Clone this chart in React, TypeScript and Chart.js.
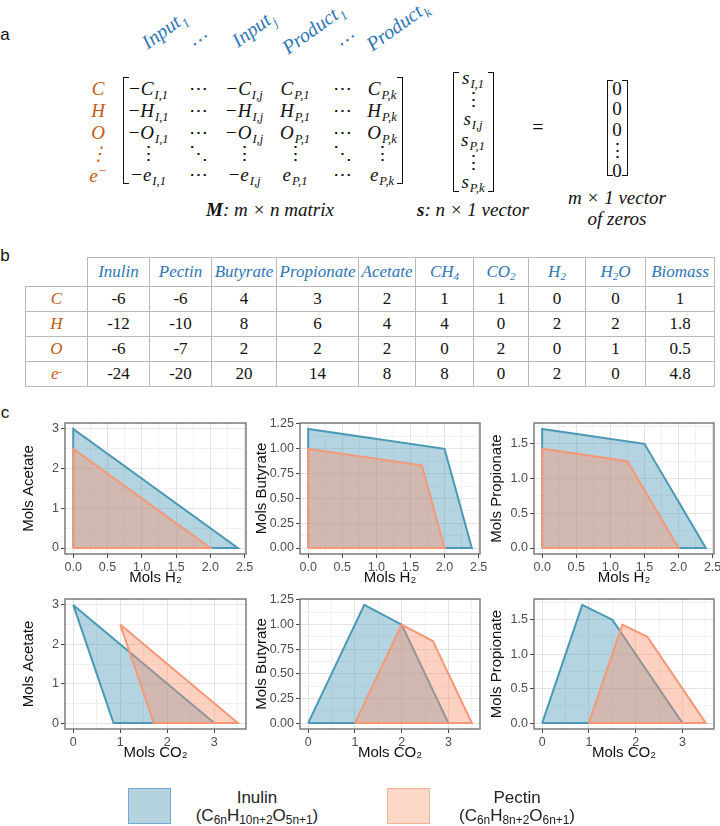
import React, { useEffect, useRef } from 'react';
import { Chart, registerables } from 'chart.js';

Chart.register(...registerables);

const SANS = '"Liberation Sans", Arial, Helvetica, sans-serif';
const SERIF = '"Liberation Serif", "Times New Roman", serif';

// ---------- axis ticks ----------
const H2_TICKS = [0, 0.5, 1, 1.5, 2, 2.5];
const H2_TICK_LABELS = ['0.0', '0.5', '1.0', '1.5', '2.0', '2.5'];
const H2_MINOR = [0.25, 0.75, 1.25, 1.75, 2.25];
const CO2_TICKS = [0, 1, 2, 3];
const CO2_TICK_LABELS = ['0', '1', '2', '3'];
const CO2_MINOR = [0.5, 1.5, 2.5, 3.5];
const ACETATE_TICKS = [0, 1, 2, 3];
const ACETATE_TICK_LABELS = ['0', '1', '2', '3'];
const ACETATE_MINOR = [0.5, 1.5, 2.5];
const BUTYRATE_TICKS = [0, 0.25, 0.5, 0.75, 1, 1.25];
const BUTYRATE_TICK_LABELS = ['0.00', '0.25', '0.50', '0.75', '1.00', '1.25'];
const BUTYRATE_MINOR = [0.125, 0.375, 0.625, 0.875, 1.125];
const PROPIONATE_TICKS = [0, 0.5, 1, 1.5];
const PROPIONATE_TICK_LABELS = ['0.0', '0.5', '1.0', '1.5'];
const PROPIONATE_MINOR = [0.25, 0.75, 1.25, 1.75];

// ---------- polygon vertices (x, y) ----------
const ACETATE_H2_INULIN_X = [0, 0, 2.4, 0];
const ACETATE_H2_INULIN_Y = [0, 3, 0, 0];
const ACETATE_H2_PECTIN_X = [0, 0, 2, 0];
const ACETATE_H2_PECTIN_Y = [0, 2.5, 0, 0];

const BUTYRATE_H2_INULIN_X = [0, 0, 2, 2.4, 0];
const BUTYRATE_H2_INULIN_Y = [0, 1.2, 1, 0, 0];
const BUTYRATE_H2_PECTIN_X = [0, 0, 1.667, 2, 0];
const BUTYRATE_H2_PECTIN_Y = [0, 1, 0.833, 0, 0];

const PROPIONATE_H2_INULIN_X = [0, 0, 1.5, 2.4, 0];
const PROPIONATE_H2_INULIN_Y = [0, 1.714, 1.5, 0, 0];
const PROPIONATE_H2_PECTIN_X = [0, 0, 1.25, 2, 0];
const PROPIONATE_H2_PECTIN_Y = [0, 1.429, 1.25, 0, 0];

const ACETATE_CO2_INULIN_X = [0, 0.857, 3, 0];
const ACETATE_CO2_INULIN_Y = [3, 0, 0, 3];
const ACETATE_CO2_PECTIN_X = [1, 1.714, 3.5, 1];
const ACETATE_CO2_PECTIN_Y = [2.5, 0, 0, 2.5];

const BUTYRATE_CO2_INULIN_X = [0, 1.2, 2, 3, 0];
const BUTYRATE_CO2_INULIN_Y = [0, 1.2, 1, 0, 0];
const BUTYRATE_CO2_PECTIN_X = [1, 2, 2.667, 3.5, 1];
const BUTYRATE_CO2_PECTIN_Y = [0, 1, 0.833, 0, 0];

const PROPIONATE_CO2_INULIN_X = [0, 0.857, 1.5, 3, 0];
const PROPIONATE_CO2_INULIN_Y = [0, 1.714, 1.5, 0, 0];
const PROPIONATE_CO2_PECTIN_X = [1, 1.714, 2.25, 3.5, 1];
const PROPIONATE_CO2_PECTIN_Y = [0, 1.429, 1.25, 0, 0];

// ---------- table b ----------
const TABLE_COLUMNS = ['Inulin', 'Pectin', 'Butyrate', 'Propionate', 'Acetate', 'CH4', 'CO2', 'H2', 'H2O', 'Biomass'];
const TABLE_ROWS = ['C', 'H', 'O', 'e'];
const TABLE_C = [-6, -6, 4, 3, 2, 1, 1, 0, 0, 1];
const TABLE_H = [-12, -10, 8, 6, 4, 4, 0, 2, 2, 1.8];
const TABLE_O = [-6, -7, 2, 2, 2, 0, 2, 0, 1, 0.5];
const TABLE_E = [-24, -20, 20, 14, 8, 8, 0, 2, 0, 4.8];
const TABLE_VALUES = [TABLE_C, TABLE_H, TABLE_O, TABLE_E];
const TABLE_COL_WIDTHS = [62, 62, 62, 65, 82, 57, 58, 55, 57, 60, 69];

// ---------- matrix a ----------
const MATRIX_ELEMENTS = ['C', 'H', 'O', '⋮', 'e'];
const MATRIX_HEADERS = [
  { t: 'Input', s: '1', x: 165, y: 31 },
  { t: '…', s: '', x: 197, y: 35 },
  { t: 'Input', s: 'j', x: 254, y: 30 },
  { t: 'Product', s: '1', x: 314, y: 30 },
  { t: '…', s: '', x: 344, y: 35 },
  { t: 'Product', s: 'k', x: 398, y: 27 },
];
const S_VECTOR = [['s', 'I,1'], ['⋮', ''], ['s', 'I,j'], ['s', 'P,1'], ['⋮', ''], ['s', 'P,k']];
const ZERO_VECTOR = ['0', '0', '0', '⋮', '0'];

const BLUE = '#2e75b6';
const ORANGE = '#c55a11';

const INULIN_LINE = 'rgb(74,152,182)';
const INULIN_FILL = 'rgba(74,152,182,0.42)';
const PECTIN_LINE = 'rgb(246,152,118)';
const PECTIN_FILL = 'rgba(250,146,110,0.42)';

const PAD_TOP = 12;
const PAD_RIGHT = 14;
const X_AXIS_H = 33;
const TICK_FONT = 12.5;
const TITLE_FONT = 15;

type PanelSpec = {
  plotLeft: number; plotTop: number; plotW: number; plotH: number; axisW: number;
  xTitle: string; yTitle: string;
  xTicks: number[]; xLabels: string[]; xMinor: number[];
  yTicks: number[]; yLabels: string[]; yMinor: number[];
  ix: number[]; iy: number[]; px: number[]; py: number[];
};

const COL_LEFT = [65, 300, 534];
const COL_W = [181, 180, 180];
const COL_AXIS_W = [45, 47, 46];
const ROW_TOP = [423, 599];
const ROW_H = [131, 130];

const mk = (c: number, r: number, rest: any): PanelSpec => ({
  plotLeft: COL_LEFT[c], plotTop: ROW_TOP[r], plotW: COL_W[c], plotH: ROW_H[r], axisW: COL_AXIS_W[c], ...rest,
});

const PANELS: PanelSpec[] = [
  mk(0, 0, { xTitle: 'Mols H₂', yTitle: 'Mols Acetate', xTicks: H2_TICKS, xLabels: H2_TICK_LABELS, xMinor: H2_MINOR, yTicks: ACETATE_TICKS, yLabels: ACETATE_TICK_LABELS, yMinor: ACETATE_MINOR, ix: ACETATE_H2_INULIN_X, iy: ACETATE_H2_INULIN_Y, px: ACETATE_H2_PECTIN_X, py: ACETATE_H2_PECTIN_Y }),
  mk(1, 0, { xTitle: 'Mols H₂', yTitle: 'Mols Butyrate', xTicks: H2_TICKS, xLabels: H2_TICK_LABELS, xMinor: H2_MINOR, yTicks: BUTYRATE_TICKS, yLabels: BUTYRATE_TICK_LABELS, yMinor: BUTYRATE_MINOR, ix: BUTYRATE_H2_INULIN_X, iy: BUTYRATE_H2_INULIN_Y, px: BUTYRATE_H2_PECTIN_X, py: BUTYRATE_H2_PECTIN_Y }),
  mk(2, 0, { xTitle: 'Mols H₂', yTitle: 'Mols Propionate', xTicks: H2_TICKS, xLabels: H2_TICK_LABELS, xMinor: H2_MINOR, yTicks: PROPIONATE_TICKS, yLabels: PROPIONATE_TICK_LABELS, yMinor: PROPIONATE_MINOR, ix: PROPIONATE_H2_INULIN_X, iy: PROPIONATE_H2_INULIN_Y, px: PROPIONATE_H2_PECTIN_X, py: PROPIONATE_H2_PECTIN_Y }),
  mk(0, 1, { xTitle: 'Mols CO₂', yTitle: 'Mols Acetate', xTicks: CO2_TICKS, xLabels: CO2_TICK_LABELS, xMinor: CO2_MINOR, yTicks: ACETATE_TICKS, yLabels: ACETATE_TICK_LABELS, yMinor: ACETATE_MINOR, ix: ACETATE_CO2_INULIN_X, iy: ACETATE_CO2_INULIN_Y, px: ACETATE_CO2_PECTIN_X, py: ACETATE_CO2_PECTIN_Y }),
  mk(1, 1, { xTitle: 'Mols CO₂', yTitle: 'Mols Butyrate', xTicks: CO2_TICKS, xLabels: CO2_TICK_LABELS, xMinor: CO2_MINOR, yTicks: BUTYRATE_TICKS, yLabels: BUTYRATE_TICK_LABELS, yMinor: BUTYRATE_MINOR, ix: BUTYRATE_CO2_INULIN_X, iy: BUTYRATE_CO2_INULIN_Y, px: BUTYRATE_CO2_PECTIN_X, py: BUTYRATE_CO2_PECTIN_Y }),
  mk(2, 1, { xTitle: 'Mols CO₂', yTitle: 'Mols Propionate', xTicks: CO2_TICKS, xLabels: CO2_TICK_LABELS, xMinor: CO2_MINOR, yTicks: PROPIONATE_TICKS, yLabels: PROPIONATE_TICK_LABELS, yMinor: PROPIONATE_MINOR, ix: PROPIONATE_CO2_INULIN_X, iy: PROPIONATE_CO2_INULIN_Y, px: PROPIONATE_CO2_PECTIN_X, py: PROPIONATE_CO2_PECTIN_Y }),
];

function expand(a: number[], b: number[]) {
  const lo = Math.min(...a, ...b);
  const hi = Math.max(...a, ...b);
  const p = (hi - lo) * 0.05;
  return [lo - p, hi + p];
}

function axisOptions(ticks: number[], labels: string[], minor: number[], range: number[], title: string, isX: boolean, size: number) {
  const all = [...ticks, ...minor].sort((a, b) => a - b);
  const isMajor = (v: any) => typeof v === 'number' && ticks.some((t) => Math.abs(t - v) < 1e-9);
  return {
    type: 'linear',
    min: range[0],
    max: range[1],
    afterBuildTicks: (s: any) => { s.ticks = all.map((v) => ({ value: v })); },
    afterFit: (s: any) => { if (isX) s.height = size; else s.width = size; },
    ticks: {
      autoSkip: false,
      maxRotation: 0,
      minRotation: 0,
      padding: 2,
      color: '#4d4d4d',
      font: { family: SANS, size: TICK_FONT },
      callback: (v: any) => {
        const i = ticks.findIndex((t) => Math.abs(t - v) < 1e-9);
        return i >= 0 ? labels[i] : '';
      },
    },
    grid: {
      color: (c: any) => (isMajor(c.tick && c.tick.value) ? '#e3e3e3' : '#f1f1f1'),
      lineWidth: 1,
      drawTicks: true,
      tickLength: 4,
      tickWidth: 1,
      tickColor: (c: any) => (isMajor(c.tick && c.tick.value) ? '#444444' : 'rgba(0,0,0,0)'),
    },
    border: { display: false },
    title: { display: true, text: title, color: '#111', font: { family: SANS, size: TITLE_FONT }, padding: 0 },
  };
}

const panelBorder = {
  id: 'panelBorder',
  afterDatasetsDraw(chart: any) {
    const { ctx, chartArea: a } = chart;
    ctx.save();
    ctx.strokeStyle = '#737373';
    ctx.lineWidth = 1.4;
    ctx.strokeRect(a.left, a.top, a.right - a.left, a.bottom - a.top);
    ctx.restore();
  },
};

function Panel({ spec }: { spec: PanelSpec }) {
  const ref = useRef<HTMLCanvasElement>(null);
  const cw = spec.axisW + spec.plotW + PAD_RIGHT;
  const ch = PAD_TOP + spec.plotH + X_AXIS_H;
  useEffect(() => {
    const xr = expand(spec.ix, spec.px);
    const yr = expand(spec.iy, spec.py);
    const pts = (xs: number[], ys: number[]) => xs.map((x, i) => ({ x, y: ys[i] }));
    const chart = new Chart(ref.current as HTMLCanvasElement, {
      type: 'scatter',
      data: {
        datasets: [
          { label: 'Inulin', data: pts(spec.ix, spec.iy), showLine: true, fill: 'shape', backgroundColor: INULIN_FILL, borderColor: INULIN_LINE, borderWidth: 2, pointRadius: 0, tension: 0, order: 1 } as any,
          { label: 'Pectin', data: pts(spec.px, spec.py), showLine: true, fill: 'shape', backgroundColor: PECTIN_FILL, borderColor: PECTIN_LINE, borderWidth: 2, pointRadius: 0, tension: 0, order: 0 } as any,
        ],
      },
      options: {
        responsive: false,
        animation: false,
        devicePixelRatio: 1,
        layout: { padding: { left: 0, right: PAD_RIGHT, top: PAD_TOP, bottom: 0 } },
        plugins: { legend: { display: false }, tooltip: { enabled: false } },
        scales: {
          x: axisOptions(spec.xTicks, spec.xLabels, spec.xMinor, xr, spec.xTitle, true, X_AXIS_H) as any,
          y: axisOptions(spec.yTicks, spec.yLabels, spec.yMinor, yr, spec.yTitle, false, spec.axisW) as any,
        },
      } as any,
      plugins: [panelBorder],
    });
    return () => chart.destroy();
  }, []);
  return (
    <canvas
      ref={ref}
      width={cw}
      height={ch}
      style={{ position: 'absolute', left: spec.plotLeft - spec.axisW, top: spec.plotTop - PAD_TOP, width: cw, height: ch }}
    />
  );
}

const Sub = ({ children }: any) => (
  <span style={{ fontSize: '0.66em', verticalAlign: '-0.35em', marginLeft: 1 }}>{children}</span>
);

const At = ({ x, y, children, style }: any) => (
  <div style={{ position: 'absolute', left: x, top: y, transform: 'translate(-50%,-50%)', whiteSpace: 'nowrap', lineHeight: 1, ...style }}>
    {children}
  </div>
);

const Bracket = ({ x, y1, y2, side }: any) => {
  const line = '1.5px solid #111';
  const st: any = {
    position: 'absolute', left: side === 'l' ? x : x - 6, top: y1, width: 6, height: y2 - y1,
    borderTop: line, borderBottom: line, boxSizing: 'border-box',
  };
  if (side === 'l') st.borderLeft = line; else st.borderRight = line;
  return <div style={st} />;
};

function chem(s: string) {
  return s.split(/(\d+)/).map((p, i) => (/^\d+$/.test(p) ? <sub key={i} style={{ fontSize: '0.65em', verticalAlign: '-0.3em' }}>{p}</sub> : <span key={i}>{p}</span>));
}

const MATRIX_COL_X = [148, 198, 244, 295, 342, 382];
const MATRIX_ROW_Y = [88, 110, 132, 153, 174];
const S_ROW_Y = [79, 99, 120, 141, 162, 183];
const ZERO_ROW_Y = [88, 108, 129, 150, 170];

function PanelA() {
  const math: any = { fontFamily: SERIF, fontStyle: 'italic', fontSize: 19, color: '#111' };
  return (
    <>
      <At x={5} y={34} style={{ fontFamily: SANS, fontSize: 17, color: '#111' }}>a</At>
      {MATRIX_HEADERS.map((h, i) => (
        <At key={'h' + i} x={h.x} y={h.y} style={{ ...math, fontSize: 20, color: BLUE, transform: 'translate(-50%,-50%) rotate(-36deg)' }}>
          {h.t}{h.s ? <Sub>{h.s}</Sub> : null}
        </At>
      ))}
      {MATRIX_ELEMENTS.map((el, r) => (
        <At key={'rl' + r} x={98} y={MATRIX_ROW_Y[r]} style={{ ...math, color: ORANGE }}>
          {el === 'e' ? <span>e<sup style={{ fontSize: '0.7em', verticalAlign: '0.5em' }}>−</sup></span> : el}
        </At>
      ))}
      {MATRIX_ELEMENTS.map((el, r) => {
        const cells = el === '⋮'
          ? [['⋮', ''], ['⋱', ''], ['⋮', ''], ['⋮', ''], ['⋱', ''], ['⋮', '']]
          : [['−' + el, 'I,1'], ['⋯', ''], ['−' + el, 'I,j'], [el, 'P,1'], ['⋯', ''], [el, 'P,k']];
        return cells.map((c, k) => (
          <At key={'m' + r + '-' + k} x={MATRIX_COL_X[k]} y={MATRIX_ROW_Y[r] + (c[1] ? 2 : 0)} style={{ ...math, fontStyle: c[1] ? 'italic' : 'normal' }}>
            {c[0]}{c[1] ? <Sub>{c[1]}</Sub> : null}
          </At>
        ));
      })}
      <Bracket x={123} y1={77} y2={184} side="l" />
      <Bracket x={403} y1={77} y2={184} side="r" />
      <At x={270} y={209} style={math}><b>M</b>: m × n matrix</At>

      <Bracket x={453} y1={72} y2={192} side="l" />
      <Bracket x={494} y1={72} y2={192} side="r" />
      {S_VECTOR.map((c, i) => (
        <At key={'s' + i} x={473} y={S_ROW_Y[i]} style={{ ...math, fontStyle: c[1] ? 'italic' : 'normal' }}>
          {c[0]}{c[1] ? <Sub>{c[1]}</Sub> : null}
        </At>
      ))}
      <At x={473} y={209} style={math}><b>s</b>: n × 1 vector</At>

      <At x={538} y={127} style={{ ...math, fontStyle: 'normal', fontSize: 20 }}>=</At>

      <Bracket x={607} y1={80} y2={176} side="l" />
      <Bracket x={628} y1={80} y2={176} side="r" />
      {ZERO_VECTOR.map((z, i) => (
        <At key={'z' + i} x={617} y={ZERO_ROW_Y[i]} style={{ ...math, fontStyle: 'normal' }}>{z}</At>
      ))}
      <At x={617} y={197} style={math}>m × 1 vector</At>
      <At x={617} y={218} style={math}>of zeros</At>
    </>
  );
}

function PanelB() {
  const cellBorder = '1.5px solid #b9b9b9';
  const td: any = { border: cellBorder, padding: 0, textAlign: 'center', verticalAlign: 'middle', fontFamily: SERIF, fontSize: 17, color: '#111', whiteSpace: 'nowrap' };
  return (
    <>
      <At x={5} y={255} style={{ fontFamily: SANS, fontSize: 17, color: '#111' }}>b</At>
      <table style={{ position: 'absolute', left: 25, top: 257, borderCollapse: 'collapse', tableLayout: 'fixed', width: TABLE_COL_WIDTHS.reduce((a, b) => a + b, 0) }}>
        <colgroup>
          {TABLE_COL_WIDTHS.map((w, i) => <col key={i} style={{ width: w }} />)}
        </colgroup>
        <tbody>
          <tr style={{ height: 29 }}>
            <td style={{ ...td, borderTop: 'none', borderLeft: 'none' }} />
            {TABLE_COLUMNS.map((c, i) => (
              <td key={i} style={{ ...td, fontStyle: 'italic', color: BLUE }}>{chem(c)}</td>
            ))}
          </tr>
          {TABLE_ROWS.map((r, ri) => (
            <tr key={ri} style={{ height: 25 }}>
              <td style={{ ...td, fontStyle: 'italic', color: ORANGE }}>
                {r === 'e' ? <span>e<sup style={{ fontSize: '0.6em', verticalAlign: '0.4em' }}>-</sup></span> : r}
              </td>
              {TABLE_VALUES[ri].map((v, vi) => <td key={vi} style={td}>{String(v)}</td>)}
            </tr>
          ))}
        </tbody>
      </table>
    </>
  );
}

function Legend() {
  const txt: any = { fontFamily: SANS, fontSize: 17, color: '#222' };
  const sub = (s: string) => <sub style={{ fontSize: '0.7em', verticalAlign: '-0.3em' }}>{s}</sub>;
  return (
    <>
      <div style={{ position: 'absolute', left: 128, top: 788, width: 43, height: 36, background: '#b5d3df', border: '1.5px solid #72a9d4', boxSizing: 'border-box' }} />
      <At x={257} y={797} style={txt}>Inulin</At>
      <At x={257} y={817} style={txt}>(C{sub('6n')}H{sub('10n+2')}O{sub('5n+1')})</At>
      <div style={{ position: 'absolute', left: 387, top: 788, width: 43, height: 36, background: '#fdd7c8', border: '1.5px solid #f3b496', boxSizing: 'border-box' }} />
      <At x={517} y={797} style={txt}>Pectin</At>
      <At x={517} y={817} style={txt}>(C{sub('6n')}H{sub('8n+2')}O{sub('6n+1')})</At>
    </>
  );
}

export default function App() {
  return (
    <div style={{ position: 'absolute', left: 0, top: 0, width: 720, height: 826, background: '#fff', overflow: 'hidden' }}>
      <PanelA />
      <PanelB />
      <At x={5} y={412} style={{ fontFamily: SANS, fontSize: 17, color: '#111' }}>c</At>
      {PANELS.map((p, i) => <Panel key={i} spec={p} />)}
      <Legend />
    </div>
  );
}
